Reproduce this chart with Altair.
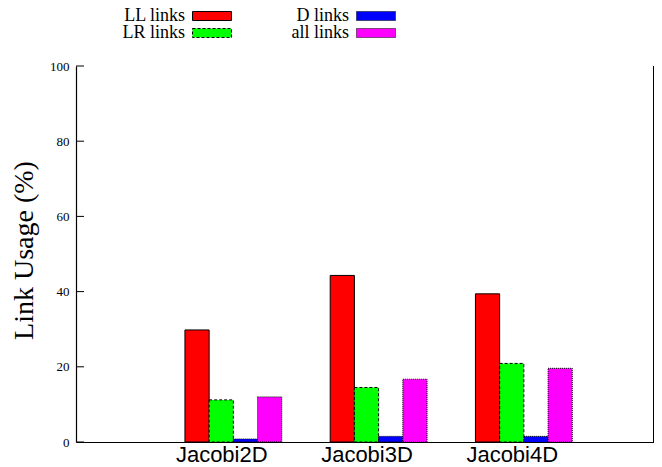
import altair as alt
import pandas as pd

categories = ["Jacobi2D", "Jacobi3D", "Jacobi4D"]
series = ["LL links", "LR links", "D links", "all links"]
ll_links = [29.8, 44.3, 39.4]
lr_links = [11.2, 14.5, 20.9]
d_links = [0.8, 1.5, 1.5]
all_links = [12.0, 16.7, 19.6]
y_ticks = [0, 20, 40, 60, 80, 100]

colors = ["#ff0000", "#00ff00", "#0000ff", "#ff00ff"]
dashes = [None, [3, 2], [1, 1], [1, 1]]

W, H = 578, 376
values = [ll_links, lr_links, d_links, all_links]

rows = []
for j, s in enumerate(series):
    for i, c in enumerate(categories):
        center = i + (j - 1) / 6.0
        rows.append({"series": s, "cat": c, "x0": center - 1 / 12.0,
                     "x1": center + 1 / 12.0, "v": values[j][i]})
df = pd.DataFrame(rows)

label_expr = "[" + ",".join("'%s'" % c for c in categories) + "][datum.value]"

xscale = alt.Scale(domain=[-1, -1 + W / 145.25], nice=False, zero=False)
yscale = alt.Scale(domain=[0, 100], nice=False)

x_axis = alt.Axis(values=[0, 1, 2], labelExpr=label_expr, ticks=False,
                  grid=False, title=None, labelFont="Liberation Sans",
                  labelFontSize=22, labelColor="black", labelPadding=2,
                  domainColor="black", domainWidth=1.2,
                  labelOverlap=False, labelFlush=False)
y_axis = alt.Axis(values=y_ticks, ticks=False, grid=False,
                  title="Link Usage (%)", titleFont="Liberation Serif",
                  titleFontSize=28, titleFontWeight="normal",
                  titleColor="black", titlePadding=11, titleY=184,
                  labelFont="Liberation Serif", labelFontSize=13,
                  labelColor="black", labelPadding=7,
                  domainColor="black", domainWidth=1.2)

leg_df = pd.DataFrame({"series": series, "col": [0, 0, 1, 1], "row": [0, 1, 0, 1]})
leg_x = alt.Scale(domain=[0, 1], range=[136, 300])
leg_y = alt.Scale(domain=[0, 1], range=[-50, -33])

layers = []
for j, s in enumerate(series):
    props = dict(stroke="black", strokeWidth=1, color=colors[j])
    if dashes[j] is not None:
        props["strokeDash"] = dashes[j]
    first = j == 0
    bar = alt.Chart(df).transform_filter(alt.datum.series == s).mark_rect(**props).encode(
        x=alt.X("x0:Q", scale=xscale, axis=x_axis if first else None),
        x2="x1:Q",
        y=alt.Y("v:Q", scale=yscale, axis=y_axis if first else None),
        y2=alt.datum(0),
    )
    layers.append(bar)
    sw = alt.Chart(leg_df).transform_filter(alt.datum.series == s).mark_rect(
        width=39, height=9, **props).encode(
        x=alt.X("col:Q", scale=leg_x, axis=None),
        y=alt.Y("row:Q", scale=leg_y, axis=None),
    )
    layers.append(sw)

tick_df = pd.DataFrame({"t": y_ticks})
ticks = alt.Chart(tick_df).mark_rule(color="black", strokeWidth=1).encode(
    y=alt.Y("t:Q", scale=yscale, axis=None),
    x=alt.value(0), x2=alt.value(8),
)

border = alt.Chart(tick_df).mark_rule(color="black", strokeWidth=1.2).encode(
    x=alt.value(W), y=alt.value(0), y2=alt.value(H)
)

leg_text = alt.Chart(leg_df).mark_text(align="right", baseline="middle", dx=-27,
                                       font="Liberation Serif", fontSize=18,
                                       color="black").encode(
    x=alt.X("col:Q", scale=leg_x, axis=None),
    y=alt.Y("row:Q", scale=leg_y, axis=None),
    text="series:N",
)

chart = alt.layer(*layers, ticks, border, leg_text).resolve_scale(
    x="independent", y="independent"
).properties(
    width=W, height=H,
    autosize=alt.AutoSizeParams(type="none"),
    padding={"left": 68, "top": 58, "right": 0, "bottom": 25},
).configure_view(stroke=None)

chart.save("out.html", embed_options={"renderer": "svg", "actions": False})
